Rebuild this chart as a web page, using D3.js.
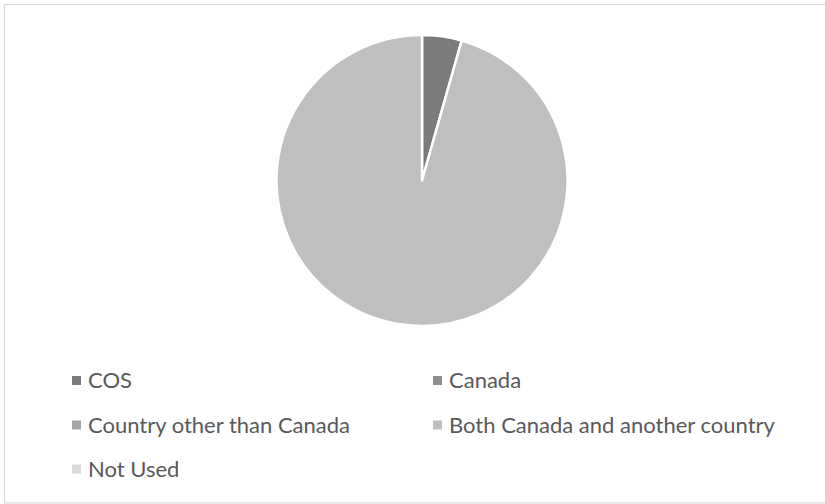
<!DOCTYPE html>
<html>
<head>
<meta charset="utf-8">
<script src="https://cdn.jsdelivr.net/npm/d3@7"></script>
<style>
  html, body { margin: 0; padding: 0; background: #fff; }
  svg { display: block; }
</style>
</head>
<body>
<svg id="chart" width="825" height="504"></svg>
<script>
// Share of use by location (percent)
const categories = ["COS", "Canada", "Country other than Canada", "Both Canada and another country", "Not Used"];
const values = [4.4, 0, 0, 95.6, 0];
const colors = ["#7b7b7b", "#8e8e8e", "#a5a5a5", "#bfbfbf", "#d9d9d9"];

const svg = d3.select("#chart");
const W = 825, H = 504;

// chart frame
svg.append("rect")
  .attr("x", 4.5).attr("y", 4.5)
  .attr("width", W + 10).attr("height", H - 5.5)
  .attr("fill", "#fff")
  .attr("stroke", "#d9d9d9").attr("stroke-width", 1.2);

const cx = 422, cy = 180.5, r = 145.5;

const data = categories.map((c, i) => ({ name: c, value: values[i], color: colors[i] }));

const pie = d3.pie().sort(null).value(d => d.value);
const arc = d3.arc().innerRadius(0).outerRadius(r);

svg.append("g")
  .attr("transform", `translate(${cx},${cy})`)
  .selectAll("path")
  .data(pie(data).filter(d => d.data.value > 0))
  .join("path")
  .attr("d", arc)
  .attr("fill", d => d.data.color)
  .attr("stroke", "#fff")
  .attr("stroke-width", 2.5)
  .attr("stroke-linejoin", "round");

// legend: two columns
const colX = [72, 433];
const rowY = [380.5, 425, 469];
const legend = svg.append("g");
data.forEach((d, i) => {
  const x = colX[i % 2], y = rowY[Math.floor(i / 2)];
  legend.append("rect")
    .attr("x", x).attr("y", y - 4.5)
    .attr("width", 9).attr("height", 9)
    .attr("fill", d.color);
  legend.append("text")
    .attr("x", x + 16).attr("y", y)
    .attr("dy", "0.36em")
    .attr("font-family", "Lato, 'Open Sans', sans-serif")
    .attr("font-size", 22)
    .attr("fill", "#595959")
    .text(d.name);
});
</script>
</body>
</html>
